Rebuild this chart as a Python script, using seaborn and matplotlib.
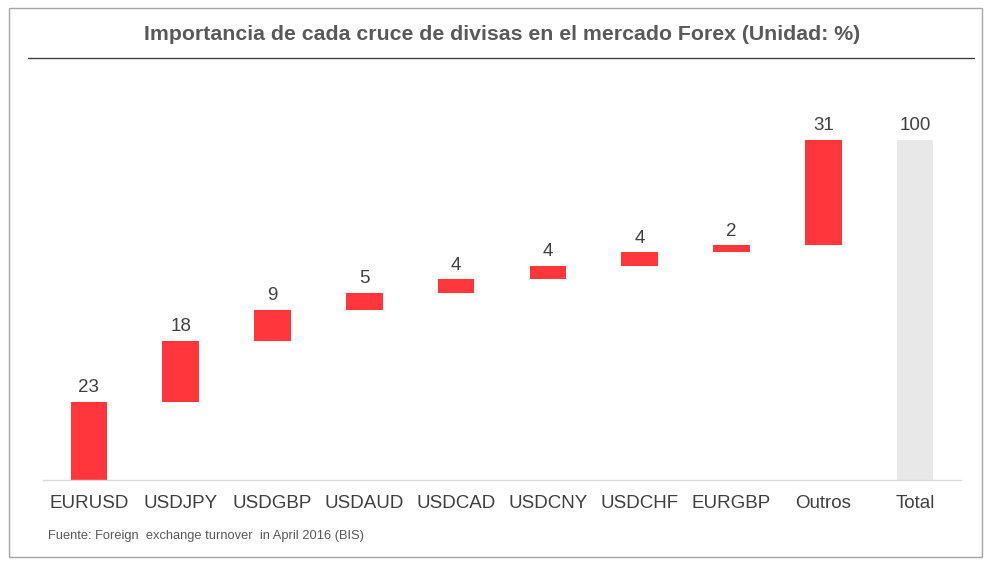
import matplotlib
matplotlib.use("Agg")
import matplotlib.pyplot as plt
import seaborn as sns
import pandas as pd
from matplotlib.patches import Rectangle
from matplotlib.lines import Line2D

categories = ["EURUSD", "USDJPY", "USDGBP", "USDAUD", "USDCAD", "USDCNY", "USDCHF", "EURGBP", "Outros", "Total"]
values = [23, 18, 9, 5, 4, 4, 4, 2, 31, 100]
bottoms = [0, 23, 41, 50, 55, 59, 63, 67, 69, 0]
title = "Importancia de cada cruce de divisas en el mercado Forex (Unidad: %)"
source = "Fuente: Foreign  exchange turnover  in April 2016 (BIS)"

RED = "#FF363C"
GRAY = "#E8E8E8"
TXT = "#404040"

sns.set_theme(style="white")
plt.rcParams["font.family"] = ["Liberation Sans", "DejaVu Sans"]

W, H = 991, 562
fig = plt.figure(figsize=(W / 100, H / 100), dpi=100)
ax = fig.add_axes([43 / W, 1 - 480 / H, (961 - 43) / W, (480 - 100) / H])

df = pd.DataFrame({"cat": categories, "val": values})
sns.barplot(data=df, x="cat", y="val", order=categories, color=RED, saturation=1,
            width=0.4, bottom=bottoms, ax=ax, linewidth=0, errorbar=None)
ax.patches[-1].set_facecolor(GRAY)

for i, (v, b) in enumerate(zip(values, bottoms)):
    ax.annotate(str(v), (i, v + b), xytext=(0, 4), textcoords="offset points",
                ha="center", va="bottom", fontsize=13.5, color=TXT)

ax.set_xlim(-0.5, 9.5)
ax.set_ylim(0, 380 / 3.4)
ax.set_xlabel("")
ax.set_ylabel("")
ax.set_yticks([])
ax.tick_params(axis="x", length=0, pad=11, labelsize=13.5, labelcolor=TXT)
for s in ["top", "left", "right"]:
    ax.spines[s].set_visible(False)
ax.spines["bottom"].set_color("#D9D9D9")
ax.spines["bottom"].set_linewidth(1)

fig.text(502 / W, 1 - 35 / H, title, ha="center", va="center", fontsize=15.3,
         fontweight="bold", color="#595959")
fig.add_artist(Line2D([28 / W, 974 / W], [1 - 58 / H, 1 - 58 / H], color="#404040", lw=1))
fig.text(48 / W, 1 - 536 / H, source, ha="left", va="center", fontsize=9.3, color="#595959")
fig.add_artist(Rectangle((8.5 / W, 1 - 556.5 / H), (982 - 8.5) / W, (556.5 - 7.5) / H,
                         fill=False, edgecolor="#A6A6A6", lw=1))

fig.savefig("out.png", dpi=100, facecolor="white")
